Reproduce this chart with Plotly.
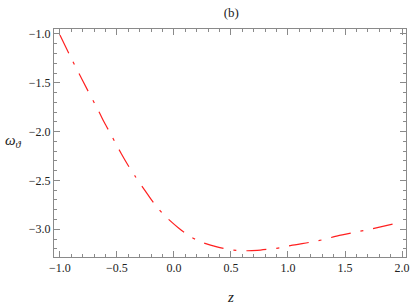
import plotly.graph_objects as go

z = [-1.0, -0.9, -0.8, -0.652, -0.609, -0.55, -0.464, -0.4, -0.339, -0.232, -0.165,
     -0.087, 0.043, 0.137, 0.232, 0.377, 0.45, 0.522, 0.638, 0.73, 0.812, 0.928, 1.029,
     1.217, 1.319, 1.435, 1.609, 1.725, 1.86, 2.0]
omega = [-1.01, -1.25, -1.48, -1.81, -1.91, -2.035, -2.222, -2.35, -2.46, -2.64, -2.75,
         -2.855, -2.99, -3.07, -3.128, -3.18, -3.2, -3.213, -3.22, -3.216, -3.206, -3.19, -3.165,
         -3.128, -3.103, -3.067, -3.025, -2.998, -2.962, -2.925]

x_ticks = [-1.0, -0.5, 0.0, 0.5, 1.0, 1.5, 2.0]
y_ticks = [-3.0, -2.5, -2.0, -1.5, -1.0]

serif = "Liberation Serif"

fig = go.Figure()
fig.add_trace(go.Scatter(
    x=z, y=omega, mode="lines",
    line=dict(color="#ff2020", width=1.2, dash="20px,10px,3px,10px", shape="spline", smoothing=0.6),
    showlegend=False, hoverinfo="skip"))

axis_common = dict(
    showgrid=False, zeroline=False, showline=True, linecolor="#8a8a8a", linewidth=1,
    mirror="allticks", ticks="inside", ticklen=6, tickcolor="#8a8a8a", tickwidth=1,
    tickfont=dict(family=serif, size=12, color="#222"),
    tickformat=".1f", ticklabeloverflow="allow",
    minor=dict(ticks="inside", ticklen=3, tickcolor="#8a8a8a", dtick=0.1, showgrid=False),
)

fig.update_xaxes(range=[-1.052, 2.035], tickvals=x_ticks, **axis_common)
fig.update_yaxes(range=[-3.284, -0.949], tickvals=y_ticks, **axis_common)

fig.update_layout(
    width=411, height=305,
    margin=dict(l=54, r=2, t=29, b=48),
    paper_bgcolor="white", plot_bgcolor="white",
    title=dict(text="(b)", x=0.5626, xanchor="center", y=0.96, yanchor="middle",
               font=dict(family=serif, size=13, color="#222")),
    annotations=[
        dict(text="<i>ω</i><sub><i>ϑ</i></sub>", xref="paper", yref="paper",
             x=-0.146, y=0.51, xanchor="left", yanchor="middle", showarrow=False,
             font=dict(family=serif, size=15, color="#222")),
        dict(text="<i>z</i>", xref="paper", yref="paper",
             x=0.501, y=-0.175, xanchor="center", yanchor="middle", showarrow=False,
             font=dict(family=serif, size=15, color="#222")),
    ],
)

fig.write_html("out.html", config={"displayModeBar": False, "staticPlot": True},
               post_script="document.body.style.margin='0';document.body.style.overflow='hidden';")
